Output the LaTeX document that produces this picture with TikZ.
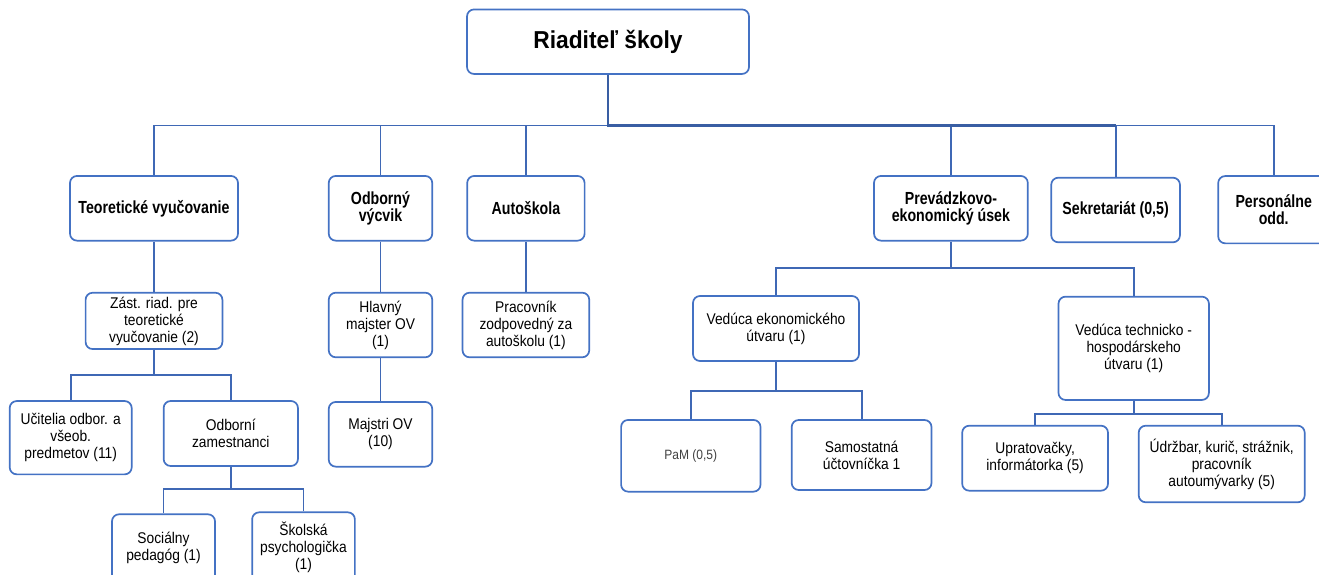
\documentclass[tikz,border=0pt]{standalone}
\usepackage{fontspec}
\setmainfont{Liberation Sans}
\newfontfamily\rfont{Liberation Sans}[FakeStretch=0.89]
\newfontfamily\bfont{Liberation Sans}[FakeStretch=0.81]
\newfontfamily\tfont{Liberation Sans}[FakeStretch=0.93]
\definecolor{boxblue}{HTML}{4472C4}
\definecolor{linkblue}{HTML}{3F68B5}
\definecolor{pamgray}{HTML}{404040}
\tikzset{
  orgbox/.style={draw=boxblue, line width=1.7pt, rounded corners=7pt, fill=white,
    inner sep=0pt, align=center, text=black},
  topbox/.style={orgbox, font=\tfont\bfseries\fontsize{24.5}{28}\selectfont},
  lvlbox/.style={orgbox, font=\bfont\bfseries\fontsize{17.5}{17.5}\selectfont},
  subbox/.style={orgbox, font=\rfont\fontsize{15.5}{17}\selectfont},
  link/.style={draw=linkblue, line width=1.8pt},
  mainlink/.style={draw=linkblue!90!black, line width=2.6pt}
}
\begin{document}
\begin{tikzpicture}[x=1pt,y=-1pt]
\useasboundingbox (0,0) rectangle (1319,575);
% level 0
\node[topbox, minimum width=282pt, minimum height=64.5pt] (root) at (608,41.7) {Riaditeľ školy};
% level 1
\node[lvlbox, minimum width=168pt, minimum height=64.7pt] (teo) at (154,208.3) {Teoretické vyučovanie};
\node[lvlbox, minimum width=103.5pt, minimum height=64.7pt] (odb) at (380.5,208.3) {Odborný\\výcvik};
\node[lvlbox, minimum width=117.4pt, minimum height=64.7pt] (aut) at (525.9,208.3) {Autoškola};
\node[lvlbox, minimum width=153.8pt, minimum height=64.7pt] (prev) at (950.9,208.3) {Prevádzkovo-\\ekonomický úsek};
\node[lvlbox, minimum width=128.7pt, minimum height=64.6pt] (sekr) at (1115.6,210) {Sekretariát (0,5)};
\node[lvlbox, minimum width=111pt, minimum height=67.3pt] (pers) at (1273.7,209.7) {Personálne\\odd.};
% level 2
\node[subbox, minimum width=136.8pt, minimum height=56.3pt] (zast) at (154,320.9) {Zást. riad. pre\\teoretické\\vyučovanie (2)};
\node[subbox, minimum width=103.5pt, minimum height=64.6pt] (hlav) at (380.5,325) {Hlavný\\majster OV\\(1)};
\node[subbox, minimum width=126.7pt, minimum height=64.6pt] (prac) at (525.9,325) {Pracovník\\zodpovedný za\\autoškolu (1)};
\node[subbox, minimum width=166pt, minimum height=65pt] (vede) at (776,328.5) {Vedúca ekonomického\\útvaru (1)};
\node[subbox, minimum width=150.4pt, minimum height=103.3pt] (vedt) at (1133.7,348.3) {Vedúca technicko -\\hospodárskeho\\útvaru (1)};
% level 3
\node[subbox, minimum width=122pt, minimum height=73.3pt] (ucit) at (70.7,437.7) {Učitelia odbor. a\\všeob.\\predmetov (11)};
\node[subbox, minimum width=134.3pt, minimum height=65pt] (odbz) at (230.8,433.5) {Odborní\\zamestnanci};
\node[subbox, minimum width=103.5pt, minimum height=64.7pt] (majs) at (380.5,434.3) {Majstri OV\\(10)};
\node[subbox, minimum width=139.4pt, minimum height=71.7pt, text=pamgray, font=\rfont\fontsize{13.5}{16}\selectfont] (pam) at (690.8,455.8) {PaM (0,5)};
\node[subbox, minimum width=139.8pt, minimum height=70pt] (samo) at (861.6,455) {Samostatná\\účtovníčka 1};
\node[subbox, minimum width=145.8pt, minimum height=65pt] (upr) at (1035.1,458.2) {Upratovačky,\\informátorka (5)};
\node[subbox, minimum width=166pt, minimum height=76.6pt] (udr) at (1221.7,464) {Údržbar, kurič, strážnik,\\pracovník\\autoumývarky (5)};
% level 4
\node[subbox, minimum width=103pt, minimum height=68pt] (soc) at (163.5,548.3) {Sociálny\\pedagóg (1)};
\node[subbox, minimum width=102.7pt, minimum height=70pt] (skol) at (303.5,547.3) {Školská\\psychologička\\(1)};
% connectors
\coordinate (b0) at (608,125.5);
\draw[link] (b0) -| (teo.north);
\draw[link] (b0) -| (odb.north);
\draw[link] (b0) -| (aut.north);
\draw[link] (b0) -| (prev.north);
\draw[link] (b0) -| (sekr.north);
\draw[link] (b0) -| (pers.north);
\draw[mainlink] (root.south) -- (b0) -- (sekr.north |- b0);
\draw[link] (teo.south) -- (zast.north);
\coordinate (b1) at (154,375);
\draw[link] (zast.south) -- (b1);
\draw[link] (b1) -| (ucit.north);
\draw[link] (b1) -| (odbz.north);
\coordinate (b2) at (230.8,489.3);
\draw[link] (odbz.south) -- (b2);
\draw[link] (b2) -| (soc.north);
\draw[link] (b2) -| (skol.north);
\draw[link] (odb.south) -- (hlav.north);
\draw[link] (hlav.south) -- (majs.north);
\draw[link] (aut.south) -- (prac.north);
\coordinate (b3) at (950.9,268.3);
\draw[link] (prev.south) -- (b3);
\draw[link] (b3) -| (vede.north);
\draw[link] (b3) -| (vedt.north);
\coordinate (b4) at (776,391);
\draw[link] (vede.south) -- (b4);
\draw[link] (b4) -| (pam.north);
\draw[link] (b4) -| (samo.north);
\coordinate (b5) at (1133.7,414);
\draw[link] (vedt.south) -- (b5);
\draw[link] (b5) -| (upr.north);
\draw[link] (b5) -| (udr.north);
\end{tikzpicture}
\end{document}
